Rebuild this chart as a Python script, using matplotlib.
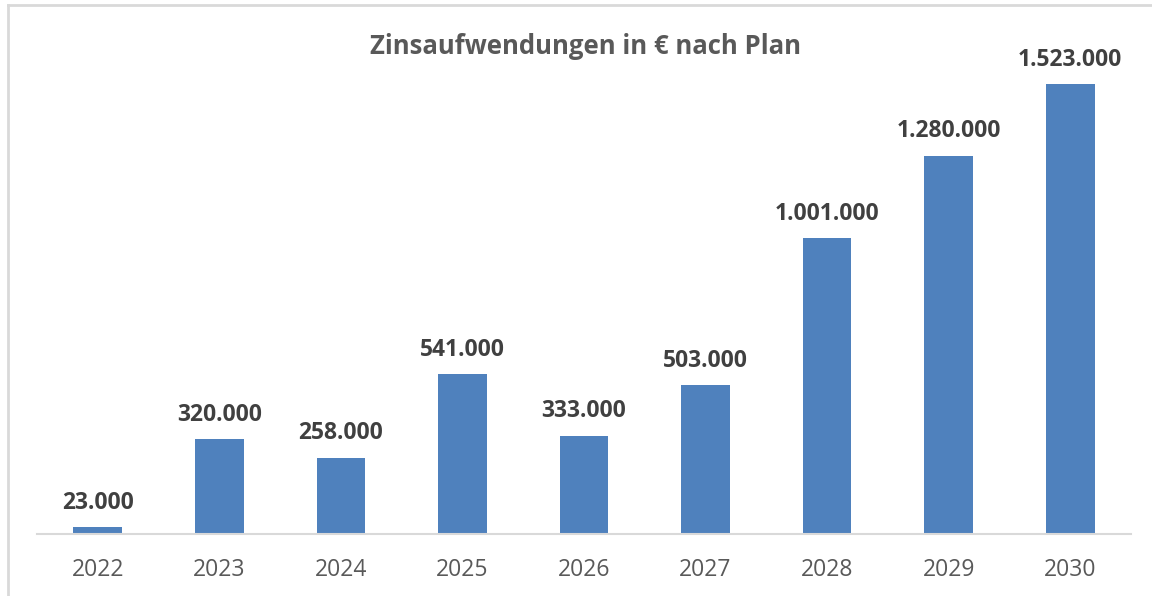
import matplotlib.pyplot as plt
from matplotlib.lines import Line2D

years = ["2022", "2023", "2024", "2025", "2026", "2027", "2028", "2029", "2030"]
zins = [23000, 320000, 258000, 541000, 333000, 503000, 1001000, 1280000, 1523000]
labels = ["23.000", "320.000", "258.000", "541.000", "333.000", "503.000",
          "1.001.000", "1.280.000", "1.523.000"]

plt.rcParams['font.family'] = ['Open Sans', 'DejaVu Sans']

fig = plt.figure(figsize=(11.52, 5.96), dpi=100)
ax = fig.add_axes([37/1152, 1 - 534/596, 1094/1152, 474/596])

x = range(len(years))
ax.bar(x, zins, width=0.4, color="#4F81BD")
ax.set_xlim(-0.5, len(years) - 0.5)
ax.set_ylim(0, 1523000 * 474 / 450)

for i, (v, s) in enumerate(zip(zins, labels)):
	ax.annotate(s, (i, v), xytext=(0, 9), textcoords="offset points",
		ha="center", va="bottom", fontsize=16.5, fontweight="bold", color="#404040")

ax.set_xticks(list(x))
ax.set_xticklabels(years, fontsize=16.5, color="#595959")
ax.tick_params(axis="x", length=0, pad=17)
ax.set_yticks([])
for side in ["top", "right", "left"]:
	ax.spines[side].set_visible(False)
ax.spines["bottom"].set_color("#d9d9d9")
ax.spines["bottom"].set_linewidth(1.5)

fig.text(586/1152, 1 - 47/596, "Zinsaufwendungen in € nach Plan", ha="center", va="center",
	fontsize=18.5, fontweight="bold", color="#595959")

# chart frame (only top and left edges visible in the crop)
fig.add_artist(Line2D([8/1152, 1], [1 - 5/596, 1 - 5/596], color="#d9d9d9", lw=2))
fig.add_artist(Line2D([8/1152, 8/1152], [0, 1 - 5/596], color="#d9d9d9", lw=2))

fig.savefig("out.png", dpi=100)
